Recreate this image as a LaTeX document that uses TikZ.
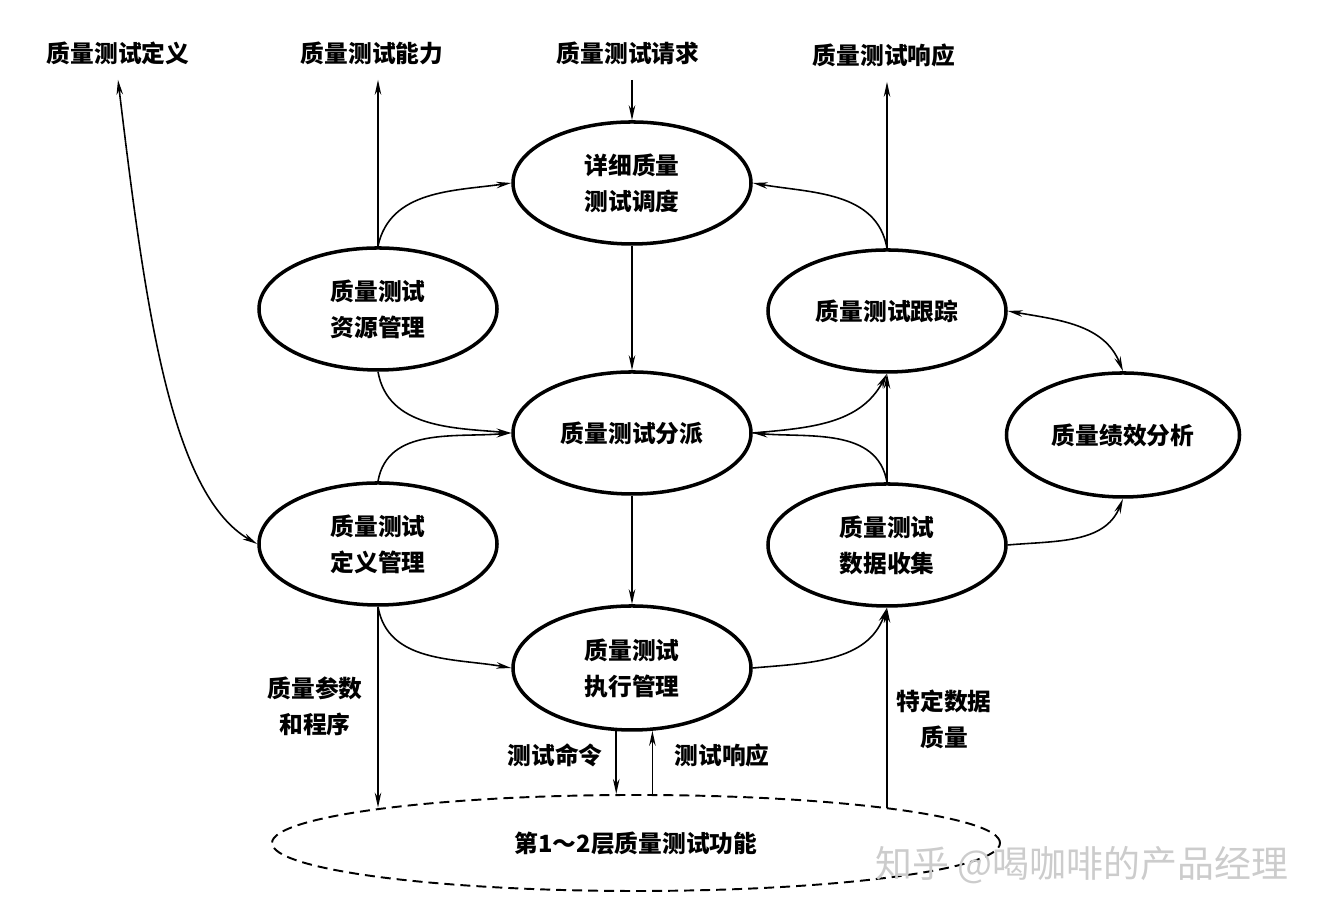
\documentclass[tikz,border=0pt]{standalone}
\usepackage{fontspec}
\setmainfont{Noto Sans CJK SC}
\usepackage{tikz}
\usetikzlibrary{arrows.meta,shapes.geometric}

\begin{document}
\begin{tikzpicture}[x=0.2mm, y=0.2mm,
  every node/.style={font=\fontsize{13.5}{20.5}\selectfont\bfseries},
  proc/.style={ellipse, draw, line width=2pt, minimum width=47.6mm, minimum height=24.4mm, align=center, inner sep=0pt},
  flow/.style={line width=0.9pt, -{Stealth[length=3mm,width=1.3mm]}},
  flowboth/.style={line width=0.9pt, {Stealth[length=3mm,width=1.3mm]}-{Stealth[length=3mm,width=1.3mm]}},
  outtxt/.style={inner sep=3mm}]
  \useasboundingbox (0,0) rectangle (1332,924);
  % processes
  \node[proc] (sched) at (632,741) {详细质量\\测试调度};
  \node[proc] (res) at (378,615) {质量测试\\资源管理};
  \node[proc] (track) at (887,613) {质量测试跟踪};
  \node[proc] (disp) at (632,491) {质量测试分派};
  \node[proc, minimum width=46.6mm, minimum height=24.8mm] (perf) at (1123,489) {质量绩效分析};
  \node[proc] (def) at (378,380) {质量测试\\定义管理};
  \node[proc] (data) at (887,379) {质量测试\\数据收集};
  \node[proc, minimum height=24.8mm] (exec) at (632,256) {质量测试\\执行管理};
  \node[ellipse, draw, line width=1.1pt, dash pattern=on 2mm off 1.2mm,
        minimum width=145.6mm, minimum height=19.2mm] (base) at (636,81) {第1～2层质量测试功能};
  % outside flows
  \node[outtxt] (qdef) at (118,871) {质量测试定义};
  \node[outtxt] (qcap) at (372,871) {质量测试能力};
  \node[outtxt] (qreq) at (628,871) {质量测试请求};
  \node[outtxt] (qresp) at (884,869) {质量测试响应};
  \node[align=center] (param) at (315,218) {质量参数\\和程序};
  \node (cmd) at (555,169) {测试命令};
  \node (resp) at (722,169) {测试响应};
  \node[align=center] (spec) at (944,205) {特定数据\\质量};
  % connectors
  \draw[flowboth] (qdef.south) .. controls (145,620) and (170,430) .. (def.west);
  \draw[flow] (res.north) -- (res.north |- qcap.south);
  \draw[flow] (res.north) to[out=78, in=188] (sched.west);
  \draw[flow] (qreq.south -| sched.north) -- (sched.north);
  \draw[flow] (track.north) -- (track.north |- qresp.south);
  \draw[flow] (track.north) to[out=100, in=-10] (sched.east);
  \draw[flow] (sched.south) -- (disp.north);
  \draw[flow] (res.south) to[out=-80, in=175] (disp.west);
  \draw[flow] (def.north) to[out=80, in=185] (disp.west);
  \draw[flow] (disp.south) -- (exec.north);
  \draw[flow] (def.south) to[out=-80, in=170] (exec.west);
  \draw[flow] (def.south) -- (def.south |- base.172);
  \draw[flow] (exec.256) -- (exec.256 |- base.north);
  \draw[flow] (exec.288 |- base.north) -- (exec.288);
  \draw[flow] (data.south |- base.8) -- (data.south);
  \draw[flow] (exec.east) to[out=5, in=-110] (data.south);
  \draw[flow] (data.north) -- (track.south);
  \draw[flow] (data.north) to[out=100, in=-5] (disp.east);
  \draw[flow] (disp.east) to[out=5, in=-118] (track.south);
  \draw[flowboth] (track.east) to[out=-10, in=112] (perf.north);
  \draw[flow] (data.east) to[out=5, in=-112] (perf.south);
  % watermark
  \node[text=gray!40, font=\fontsize{21}{24}\selectfont] (mark) at (1082,59) {知乎 @喝咖啡的产品经理};
\end{tikzpicture}
\end{document}
